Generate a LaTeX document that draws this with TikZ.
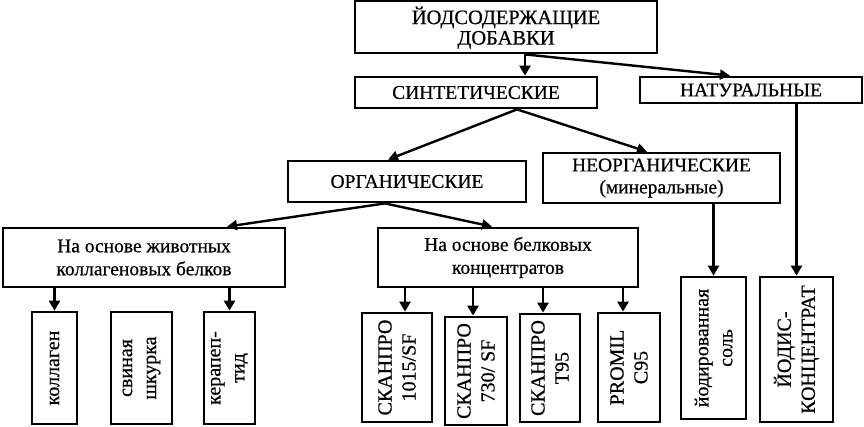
\documentclass[tikz,border=0pt]{standalone}
\usepackage{fontspec}
\setmainfont{Liberation Serif}[FakeBold=0.6]
\usetikzlibrary{arrows.meta}
\begin{document}
\begin{tikzpicture}[x=1pt,y=-1pt,
 box/.style={draw,line width=2.8pt,rectangle,inner sep=0pt,align=center,font=\fontsize{19.5}{23}\selectfont},
 vbox/.style={box,rotate=90,font=\fontsize{20}{24}\selectfont},
 arr/.style={line width=2.8pt,-{Triangle[width=11pt,length=10pt]}},
 darr/.style={line width=2.4pt,-{Triangle[width=10pt,length=10pt]}}]
\useasboundingbox (0,0) rectangle (864,426);
% top levels
\node[box,minimum width=302pt,minimum height=52pt,font=\fontsize{20.5}{20.5}\selectfont] (top) at (506,27) {\rule{0pt}{19pt}ЙОДСОДЕРЖАЩИЕ\\ДОБАВКИ};
\node[box,minimum width=242pt,minimum height=31pt] (sint) at (476,92.5) {СИНТЕТИЧЕСКИЕ};
\node[box,minimum width=222pt,minimum height=26pt] (nat) at (751,90) {НАТУРАЛЬНЫЕ};
\node[box,minimum width=238pt,minimum height=41pt] (org) at (407,181.5) {ОРГАНИЧЕСКИЕ};
\node[box,minimum width=237pt,minimum height=50pt,font=\fontsize{19.5}{22}\selectfont] (neorg) at (661.5,178) {НЕОРГАНИЧЕСКИЕ\\(минеральные)};
\node[box,minimum width=282pt,minimum height=59pt] (anim) at (144,257.5) {На основе животных\\коллагеновых белков};
\node[box,minimum width=260pt,minimum height=59pt] (conc) at (508,257.5) {На основе белковых\\концентратов};
% bottom vertical boxes
\node[vbox,minimum width=112pt,minimum height=45pt] (kol) at (54.5,368) {коллаген};
\node[vbox,minimum width=112pt,minimum height=61pt] (svin) at (141.5,368) {свиная\\шкурка};
\node[vbox,minimum width=112pt,minimum height=51pt] (ker) at (229.5,368) {керапеп-\\тид};
\node[vbox,minimum width=109pt,minimum height=70pt] (s1) at (397,367.5) {СКАНПРО\\1015/SF};
\node[vbox,minimum width=108pt,minimum height=62pt] (s2) at (476,371) {СКАНПРО\\730/ SF};
\node[vbox,minimum width=108pt,minimum height=60pt] (s3) at (550,368) {СКАНПРО\\T95};
\node[vbox,minimum width=109pt,minimum height=62pt] (s4) at (629,367.5) {PROMIL\\C95};
\node[vbox,minimum width=142pt,minimum height=65pt] (yod) at (713.5,348) {йодированная\\соль};
\node[vbox,minimum width=145pt,minimum height=73pt] (jod) at (796.5,349.5) {ЙОДИС-\\КОНЦЕНТРАТ};
% connectors
\coordinate (c1) at (405,0);
\coordinate (c2) at (473,0);
\coordinate (c3) at (543,0);
\coordinate (c4) at (623,0);
\draw[arr] ([xshift=19pt]top.south) -- ([xshift=49pt]sint.north);
\draw[darr] ([xshift=19pt]top.south) -- ([xshift=-21pt]nat.north);
\draw[darr] ([xshift=41pt]sint.south) -- ([xshift=-19pt]org.north);
\draw[darr] ([xshift=41pt]sint.south) -- ([xshift=-14.5pt]neorg.north);
\draw[darr] ([xshift=-22pt]org.south) -- ([xshift=83pt]anim.north);
\draw[darr] ([xshift=-22pt]org.south) -- ([xshift=-16pt]conc.north);
\draw[arr] (anim.south -| kol.east) -- (kol.east);
\draw[arr] (anim.south -| ker.east) -- (ker.east);
\draw[arr] (conc.south -| c1) -- (s1.east -| c1);
\draw[arr] (conc.south -| c2) -- (s2.east -| c2);
\draw[arr] (conc.south -| c3) -- (s3.east -| c3);
\draw[arr] (conc.south -| c4) -- (s4.east -| c4);
\draw[arr] (neorg.south -| yod.east) -- (yod.east);
\draw[arr] (nat.south -| jod.east) -- (jod.east);
\end{tikzpicture}
\end{document}
